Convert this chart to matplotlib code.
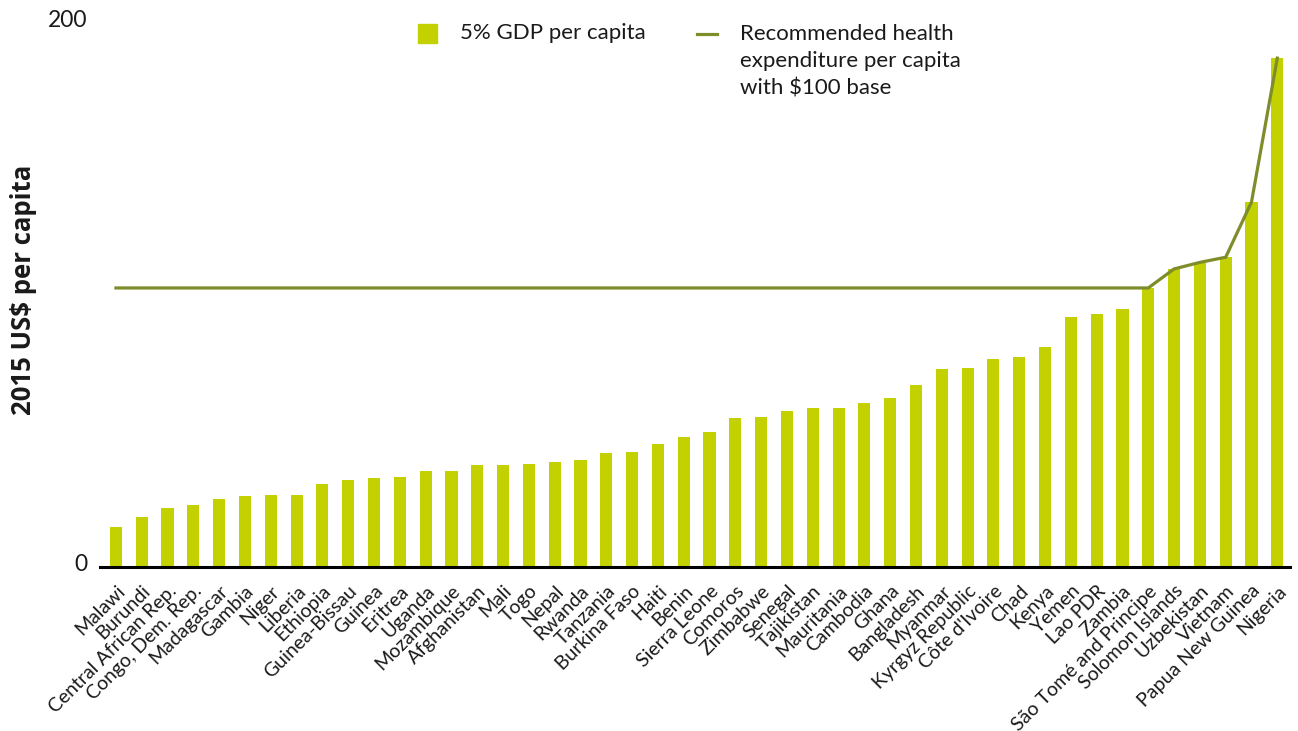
import numpy as np
import matplotlib
matplotlib.use("Agg")
import matplotlib.pyplot as plt
from matplotlib.patches import Rectangle
from matplotlib.lines import Line2D
from matplotlib.transforms import ScaledTranslation

countries = [
    "Malawi", "Burundi", "Central African Rep.", "Congo, Dem. Rep.", "Madagascar",
    "Gambia", "Niger", "Liberia", "Ethiopia", "Guinea-Bissau", "Guinea", "Eritrea",
    "Uganda", "Mozambique", "Afghanistan", "Mali", "Togo", "Nepal", "Rwanda",
    "Tanzania", "Burkina Faso", "Haiti", "Benin", "Sierra Leone", "Comoros",
    "Zimbabwe", "Senegal", "Tajikistan", "Mauritania", "Cambodia", "Ghana",
    "Bangladesh", "Myanmar", "Kyrgyz Republic", "Côte d'Ivoire", "Chad", "Kenya",
    "Yemen", "Lao PDR", "Zambia", "São Tomé and Principe", "Solomon Islands",
    "Uzbekistan", "Vietnam", "Papua New Guinea", "Nigeria",
]

# 5% of GDP per capita, 2015 US$
gdp_share = [
    14.7, 18.4, 21.7, 22.8, 25.0, 26.1, 26.5, 26.5, 30.5, 32.0, 32.7, 33.1,
    35.3, 35.3, 37.5, 37.5, 37.9, 38.6, 39.3, 41.9, 42.3, 45.2, 47.8, 49.6,
    54.8, 55.1, 57.4, 58.5, 58.5, 60.3, 62.1, 66.9, 72.8, 73.2, 76.5, 77.2,
    80.9, 91.9, 93.0, 94.9, 102.6, 109.6, 112.0, 113.9, 134.2, 187.1,
]

# Recommended health expenditure per capita (with $100 base), 2015 US$
recommended = [102.6] * 41 + [109.6, 112.0, 113.9, 134.2, 187.1]

y_ticks = [0, 200]

BAR_COLOR = "#C3D100"
LINE_COLOR = "#7E8C2A"
TEXT_COLOR = "#1a1a1a"
FONT = ["Lato", "DejaVu Sans"]

plt.rcParams["font.family"] = FONT

fig = plt.figure(figsize=(12.98, 7.31), dpi=100)
ax = fig.add_axes([0.077, 0.2243, 0.917, 0.7442])

x = np.arange(len(countries))
ax.bar(x, gdp_share, width=0.47, color=BAR_COLOR, zorder=2)
ax.plot(x, recommended, color=LINE_COLOR, linewidth=2.3, zorder=3,
        solid_joinstyle="miter")

ax.set_xlim(-0.62, len(countries) - 0.5)
ax.set_ylim(0, 200)

for side in ("left", "right", "top"):
    ax.spines[side].set_visible(False)
ax.spines["bottom"].set_linewidth(2.2)
ax.spines["bottom"].set_color("black")
ax.spines["bottom"].set_zorder(4)

ax.set_yticks(y_ticks)
ax.set_yticklabels([str(v) for v in y_ticks], fontsize=16.5, color=TEXT_COLOR)
ax.tick_params(axis="y", length=0, pad=9)
for lbl in ax.get_yticklabels():
    lbl.set_transform(lbl.get_transform() + ScaledTranslation(0, 0.05, fig.dpi_scale_trans))

ax.set_xticks(x)
ax.set_xticklabels(countries, rotation=45, ha="right", rotation_mode="anchor",
                   fontsize=14, color=TEXT_COLOR)
ax.tick_params(axis="x", length=0, pad=11)

fig.text(0.018, 0.603, "2015 US$ per capita", rotation=90, ha="center", va="center",
         fontsize=18.5, fontweight="bold", family=["Open Sans", "DejaVu Sans"],
         color=TEXT_COLOR)

# Legend
W, H = 1298.0, 731.0
fig.add_artist(Rectangle((418 / W, 1 - 43 / H), 19 / W, 19 / H,
                         transform=fig.transFigure, color=BAR_COLOR))
fig.text(460 / W, 1 - 33 / H, "5% GDP per capita", ha="left", va="center",
         fontsize=16, color=TEXT_COLOR)
fig.add_artist(Line2D([697 / W, 717 / W], [1 - 34 / H, 1 - 34 / H],
                      transform=fig.transFigure, color=LINE_COLOR, linewidth=2.3))
fig.text(740 / W, 1 - 24 / H,
         "Recommended health\nexpenditure per capita\nwith $100 base",
         ha="left", va="top", fontsize=16, color=TEXT_COLOR, linespacing=1.45)

fig.savefig("out.png", dpi=100)
